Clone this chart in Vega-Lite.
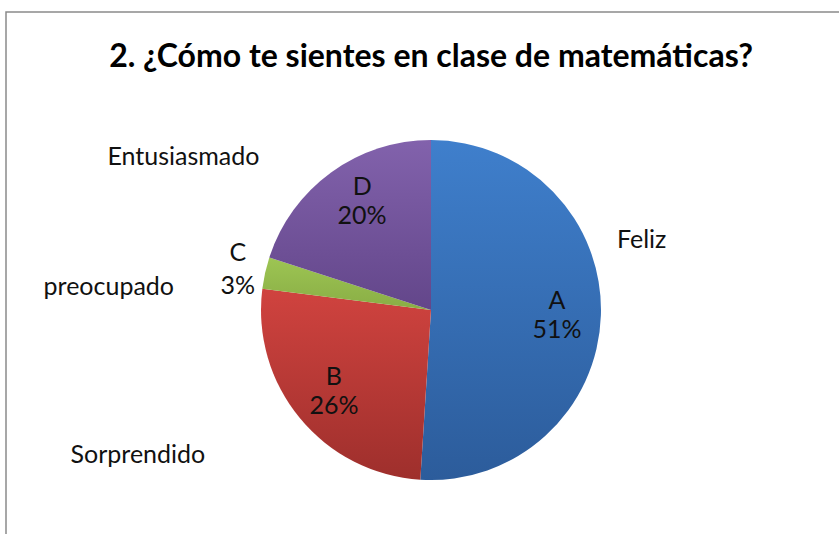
{
  "$schema": "https://vega.github.io/schema/vega-lite/v6.json",
  "autosize": "none",
  "width": 850,
  "height": 596,
  "padding": {"left": 6, "top": 12, "right": -17, "bottom": -74},
  "background": "white",
  "view": {"stroke": "#8a8a8a", "strokeWidth": 1.5, "fill": "white"},
  "config": {"view": {"stroke": "#8a8a8a", "strokeWidth": 1.5}},
  "layer": [
    {
      "data": {
        "values": [
          {"cat": "A", "value": 51, "pct": "51%", "name": "Feliz"},
          {"cat": "B", "value": 26, "pct": "26%", "name": "Sorprendido"},
          {"cat": "C", "value": 3, "pct": "3%", "name": "preocupado"},
          {"cat": "D", "value": 20, "pct": "20%", "name": "Entusiasmado"}
        ]
      },
      "transform": [{"calculate": "[datum.cat, datum.pct]", "as": "lbl"}],
      "encoding": {
        "theta": {"field": "value", "type": "quantitative", "stack": true},
        "order": {"field": "cat"}
      },
      "layer": [
        {
          "mark": {"type": "arc", "radius": 170, "stroke": null},
          "encoding": {
            "fill": {
              "condition": [
                {"test": "datum.cat === 'A'", "value": {"gradient": "linear", "x1": 0, "y1": 0, "x2": 0, "y2": 1, "stops": [{"offset": 0, "color": "#3f7fcc"}, {"offset": 1, "color": "#2c5c9b"}]}},
                {"test": "datum.cat === 'B'", "value": {"gradient": "linear", "x1": 0, "y1": 0, "x2": 0, "y2": 1, "stops": [{"offset": 0, "color": "#d0433f"}, {"offset": 1, "color": "#9e2f2c"}]}},
                {"test": "datum.cat === 'C'", "value": {"gradient": "linear", "x1": 0, "y1": 0, "x2": 0, "y2": 1, "stops": [{"offset": 0, "color": "#9dc553"}, {"offset": 1, "color": "#89ad45"}]}}
              ],
              "value": {"gradient": "linear", "x1": 0, "y1": 0, "x2": 0, "y2": 1, "stops": [{"offset": 0, "color": "#8262ac"}, {"offset": 1, "color": "#63468a"}]}
            }
          }
        },
        {
          "mark": {"type": "text", "radius": 126, "dy": -13, "font": "Lato", "fontSize": 25, "lineHeight": 29},
          "encoding": {"text": {"condition": {"test": "datum.cat === 'A' || datum.cat === 'B'", "field": "lbl"}, "value": ""}, "color": {"value": "#111111"}}
        },
        {
          "mark": {"type": "text", "radius": 130, "thetaOffset": 0.07, "dy": -13, "font": "Lato", "fontSize": 25, "lineHeight": 29},
          "encoding": {"text": {"condition": {"test": "datum.cat === 'D'", "field": "lbl"}, "value": ""}, "color": {"value": "#111111"}}
        },
        {
          "mark": {"type": "text", "radius": 198, "dy": -14, "font": "Lato", "fontSize": 25, "lineHeight": 33},
          "encoding": {"text": {"condition": {"test": "datum.cat === 'C'", "field": "lbl"}, "value": ""}, "color": {"value": "#111111"}}
        },
        {
          "mark": {"type": "text", "radius": 222, "thetaOffset": -0.353, "font": "Lato", "fontSize": 25},
          "encoding": {"text": {"condition": {"test": "datum.cat === 'A'", "field": "name"}, "value": ""}, "color": {"value": "#111111"}}
        },
        {
          "mark": {"type": "text", "radius": 327, "thetaOffset": 0.232, "font": "Lato", "fontSize": 25},
          "encoding": {"text": {"condition": {"test": "datum.cat === 'B'", "field": "name"}, "value": ""}, "color": {"value": "#111111"}}
        },
        {
          "mark": {"type": "text", "radius": 323, "thetaOffset": -0.150, "font": "Lato", "fontSize": 25},
          "encoding": {"text": {"condition": {"test": "datum.cat === 'C'", "field": "name"}, "value": ""}, "color": {"value": "#111111"}}
        },
        {
          "mark": {"type": "text", "radius": 291, "thetaOffset": -0.389, "font": "Lato", "fontSize": 25},
          "encoding": {"text": {"condition": {"test": "datum.cat === 'D'", "field": "name"}, "value": ""}, "color": {"value": "#111111"}}
        }
      ]
    },
    {
      "data": {"values": [{"t": "2. ¿Cómo te sientes en clase de matemáticas?"}]},
      "mark": {"type": "text", "font": "Lato", "fontSize": 32, "fontWeight": "bold", "color": "#000000", "align": "center", "baseline": "alphabetic", "dy": -243},
      "encoding": {"text": {"field": "t"}}
    }
  ]
}
